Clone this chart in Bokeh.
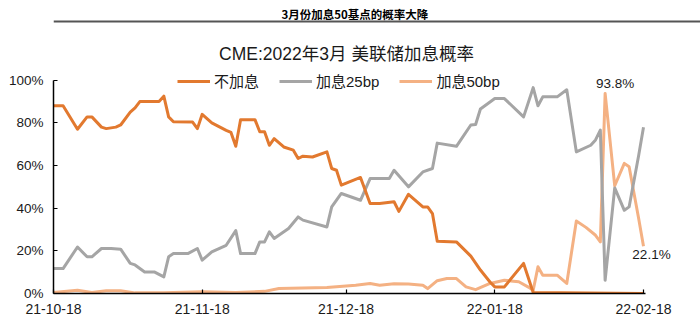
import pandas as pd
from bokeh.plotting import figure
from bokeh.layouts import column
from bokeh.models import (Range1d, FixedTicker, DatetimeTickFormatter, PrintfTickFormatter,
                          Legend, LegendItem, Label, Span, ColumnDataSource)
from bokeh.embed import file_html
from bokeh.resources import INLINE

# ---------------- data ----------------
header_text = "3月份加息50基点的概率大降"
chart_title = "CME:2022年3月 美联储加息概率"
series_names = ["不加息", "加息25bp", "加息50bp"]

no_hike_dates = ["2021-10-18", "2021-10-20", "2021-10-23", "2021-10-25", "2021-10-26", "2021-10-28",
                 "2021-10-29", "2021-10-31", "2021-11-01", "2021-11-03", "2021-11-04", "2021-11-05",
                 "2021-11-09", "2021-11-10", "2021-11-11", "2021-11-12", "2021-11-16", "2021-11-17",
                 "2021-11-18", "2021-11-20", "2021-11-23", "2021-11-24", "2021-11-25", "2021-11-26",
                 "2021-11-29", "2021-11-30", "2021-12-01", "2021-12-02", "2021-12-03", "2021-12-05",
                 "2021-12-07", "2021-12-08", "2021-12-09", "2021-12-11", "2021-12-14", "2021-12-15",
                 "2021-12-16", "2021-12-17", "2021-12-21", "2021-12-23", "2021-12-25", "2021-12-28",
                 "2021-12-29", "2021-12-31", "2022-01-03", "2022-01-04", "2022-01-05", "2022-01-06",
                 "2022-01-10", "2022-01-13", "2022-01-15", "2022-01-17", "2022-01-18", "2022-01-20",
                 "2022-01-24", "2022-01-26", "2022-02-18"]
no_hike_vals = [88.0, 88.0, 77.0, 82.8, 82.8, 78.0,
                77.3, 78.0, 79.0, 85.0, 87.0, 90.0,
                90.0, 92.5, 82.8, 80.5, 80.4, 77.3,
                84.0, 80.0, 76.5, 75.5, 69.0, 81.5,
                81.5, 75.8, 75.8, 69.5, 72.6, 68.7,
                67.2, 63.3, 64.4, 64.0, 66.4, 58.6,
                57.8, 50.8, 54.4, 42.2, 42.2, 43.0,
                38.5, 46.5, 40.6, 40.6, 37.5, 24.5,
                24.2, 17.5, 11.0, 5.4, 3.1, 3.1,
                14.1, 0.5, 0.0]

hike25_dates = ["2021-10-18", "2021-10-20", "2021-10-23", "2021-10-25", "2021-10-26", "2021-10-28",
                "2021-10-30", "2021-11-01", "2021-11-03", "2021-11-04", "2021-11-06", "2021-11-08",
                "2021-11-10", "2021-11-11", "2021-11-12", "2021-11-15", "2021-11-17", "2021-11-18",
                "2021-11-20", "2021-11-23", "2021-11-25", "2021-11-26", "2021-11-29", "2021-11-30",
                "2021-12-01", "2021-12-02", "2021-12-03", "2021-12-06", "2021-12-08", "2021-12-09",
                "2021-12-14", "2021-12-15", "2021-12-17", "2021-12-21", "2021-12-23", "2021-12-27",
                "2021-12-28", "2021-12-31", "2022-01-03", "2022-01-05", "2022-01-06", "2022-01-10",
                "2022-01-13", "2022-01-14", "2022-01-15", "2022-01-18", "2022-01-20", "2022-01-24",
                "2022-01-26", "2022-01-27", "2022-01-28", "2022-01-31", "2022-02-02", "2022-02-04",
                "2022-02-07", "2022-02-08", "2022-02-09", "2022-02-10", "2022-02-12", "2022-02-14",
                "2022-02-15", "2022-02-17", "2022-02-18"]
hike25_vals = [11.7, 11.7, 21.8, 17.2, 17.2, 21.1,
               21.1, 20.8, 14.1, 13.4, 10.1, 10.1,
               7.8, 17.2, 18.7, 18.7, 21.1, 15.6,
               19.5, 22.6, 29.5, 18.7, 18.7, 24.2,
               24.2, 28.9, 25.8, 30.5, 35.9, 34.4,
               31.2, 40.6, 46.9, 43.7, 53.9, 53.9,
               57.8, 50.0, 57.0, 58.6, 70.5, 69.0,
               79.0, 79.2, 86.5, 91.4, 91.4, 82.8,
               96.5, 88.0, 92.2, 92.2, 95.5, 66.4,
               69.5, 72.0, 76.6, 6.2, 49.5, 39.0,
               40.6, 64.8, 77.9]

hike50_dates = ["2021-10-18", "2021-10-23", "2021-10-26", "2021-10-29", "2021-11-01", "2021-11-04",
                "2021-11-10", "2021-11-18", "2021-11-25", "2021-12-01", "2021-12-04", "2021-12-14",
                "2021-12-20", "2021-12-23", "2021-12-25", "2021-12-28", "2021-12-31", "2022-01-03",
                "2022-01-04", "2022-01-06", "2022-01-08", "2022-01-10", "2022-01-12", "2022-01-14",
                "2022-01-17", "2022-01-20", "2022-01-23", "2022-01-25", "2022-01-26", "2022-01-27",
                "2022-01-28", "2022-01-31", "2022-02-02", "2022-02-04", "2022-02-06", "2022-02-08",
                "2022-02-09", "2022-02-10", "2022-02-12", "2022-02-14", "2022-02-15", "2022-02-17",
                "2022-02-18"]
hike50_vals = [0.5, 1.5, 0.5, 1.3, 1.3, 0.3,
               0.3, 0.8, 0.5, 1.0, 2.3, 2.8,
               3.9, 4.7, 3.9, 4.6, 4.4, 3.9,
               2.3, 6.0, 7.0, 7.0, 3.1, 1.8,
               4.7, 6.2, 5.5, 3.0, 1.5, 12.5,
               8.6, 8.6, 4.7, 34.0, 31.0, 27.3,
               24.2, 93.8, 50.5, 61.0, 59.4, 35.0,
               22.1]

x_tick_dates = ["2021-10-18", "2021-11-18", "2021-12-18", "2022-01-18", "2022-02-18"]
y_ticks = [0, 20, 40, 60, 80, 100]

# ---------------- styling ----------------
FONT = "'Liberation Sans', 'Noto Sans CJK SC', sans-serif"
CJK = "'Noto Sans CJK SC', 'Liberation Sans', sans-serif"
colors = ["#E2792F", "#A5A5A5", "#F4B183"]
TEXT = "#1a1a1a"

# ---------------- header strip (bold caption + rule) ----------------
HEAD_H = 28
head = figure(width=700, height=HEAD_H, output_backend="svg", toolbar_location=None,
              x_range=Range1d(0, 700), y_range=Range1d(0, HEAD_H),
              min_border=0, x_axis_location=None, y_axis_location=None)
head.outline_line_color = None
head.grid.visible = False
head.add_layout(Label(x=326, y=HEAD_H - 13, text=header_text, text_font=CJK,
                      text_font_size="11.5px", text_font_style="bold", text_color="black",
                      text_align="center", text_baseline="middle"))
head.add_layout(Span(location=HEAD_H - 21, dimension="width", line_color="#555555", line_width=2))

# ---------------- main chart ----------------
MAIN_H = 334 - HEAD_H
BOTTOM = 41                      # space for the date labels
frame_h = MAIN_H - BOTTOM        # frame reaches the top of this figure
px_per_pct = 213.3 / 100.0       # 100% sits 213 px above 0%
y_top = frame_h / px_per_pct

start = pd.Timestamp("2021-10-18")
last = pd.Timestamp("2022-02-18")
px_per_day = 590.0 / 123.0
x_end = last + pd.Timedelta(days=(700 - 53 - 590) / px_per_day)

p_main = figure(width=700, height=MAIN_H, output_backend="svg", toolbar_location=None,
                x_axis_type="datetime", x_range=Range1d(start, x_end), y_range=Range1d(0, y_top),
                min_border_left=53, min_border_right=0, min_border_top=0, min_border_bottom=BOTTOM)
p_main.outline_line_color = None
p_main.grid.visible = False

src50 = ColumnDataSource(dict(x=pd.to_datetime(hike50_dates), y=hike50_vals))
src25 = ColumnDataSource(dict(x=pd.to_datetime(hike25_dates), y=hike25_vals))
src0 = ColumnDataSource(dict(x=pd.to_datetime(no_hike_dates), y=no_hike_vals))

r50 = p_main.line("x", "y", source=src50, line_color=colors[2], line_width=3, line_join="round")
r25 = p_main.line("x", "y", source=src25, line_color=colors[1], line_width=3, line_join="round")
r0 = p_main.line("x", "y", source=src0, line_color=colors[0], line_width=3, line_join="round")

xa = p_main.xaxis[0]
xa.ticker = FixedTicker(ticks=[pd.Timestamp(d).value / 1e6 for d in x_tick_dates])
fmt = "%y-%m-%d"
xa.formatter = DatetimeTickFormatter(milliseconds=fmt, seconds=fmt, minsec=fmt, minutes=fmt,
                                     hourmin=fmt, hours=fmt, days=fmt, months=fmt, years=fmt)
xa.bounds = (start, last + pd.Timedelta(hours=10))
ya = p_main.yaxis[0]
ya.ticker = FixedTicker(ticks=y_ticks)
ya.formatter = PrintfTickFormatter(format="%d%%")
ya.bounds = (0, 100)
for ax in (xa, ya):
    ax.axis_line_color = "black"
    ax.axis_line_width = 1.5
    ax.major_tick_line_color = "black"
    ax.major_tick_line_width = 1.2
    ax.major_tick_in = 4
    ax.major_tick_out = 0
    ax.minor_tick_line_color = None
    ax.major_label_text_font = FONT
    ax.major_label_text_color = TEXT
xa.major_label_text_font_size = "14px"
xa.major_label_standoff = 10
ya.major_label_text_font_size = "13.5px"
ya.major_label_standoff = 10

legend = Legend(items=[LegendItem(label=series_names[0], renderers=[r0]),
                       LegendItem(label=series_names[1], renderers=[r25]),
                       LegendItem(label=series_names[2], renderers=[r50])],
                orientation="horizontal", location=(124, 202),
                glyph_width=33, glyph_height=20, label_standoff=4, spacing=20,
                padding=0, margin=0, background_fill_alpha=0, border_line_alpha=0,
                label_text_font=FONT, label_text_font_size="15px", label_text_color=TEXT)
p_main.add_layout(legend, "center")

# chart title, inside the (extended) frame above the 100% line
p_main.add_layout(Label(x=293, y=frame_h - (53 - HEAD_H), x_units="screen", y_units="screen",
                        text=chart_title, text_font=FONT, text_font_size="17.5px", text_color=TEXT,
                        text_align="center", text_baseline="middle"))

# value annotations
peak_i = hike50_vals.index(max(hike50_vals))
p_main.add_layout(Label(x=pd.Timestamp(hike50_dates[peak_i]), y=hike50_vals[peak_i],
                        text=f"{hike50_vals[peak_i]:.1f}%", x_offset=10, y_offset=10,
                        text_font=FONT, text_font_size="13.5px", text_color=TEXT,
                        text_align="center", text_baseline="middle"))
p_main.add_layout(Label(x=pd.Timestamp(hike50_dates[-1]), y=hike50_vals[-1],
                        text=f"{hike50_vals[-1]:.1f}%", x_offset=8, y_offset=-8,
                        text_font=FONT, text_font_size="13.5px", text_color=TEXT,
                        text_align="center", text_baseline="middle"))

p = column(head, p_main, spacing=0)
open("out.html", "w").write(file_html(p, INLINE))
